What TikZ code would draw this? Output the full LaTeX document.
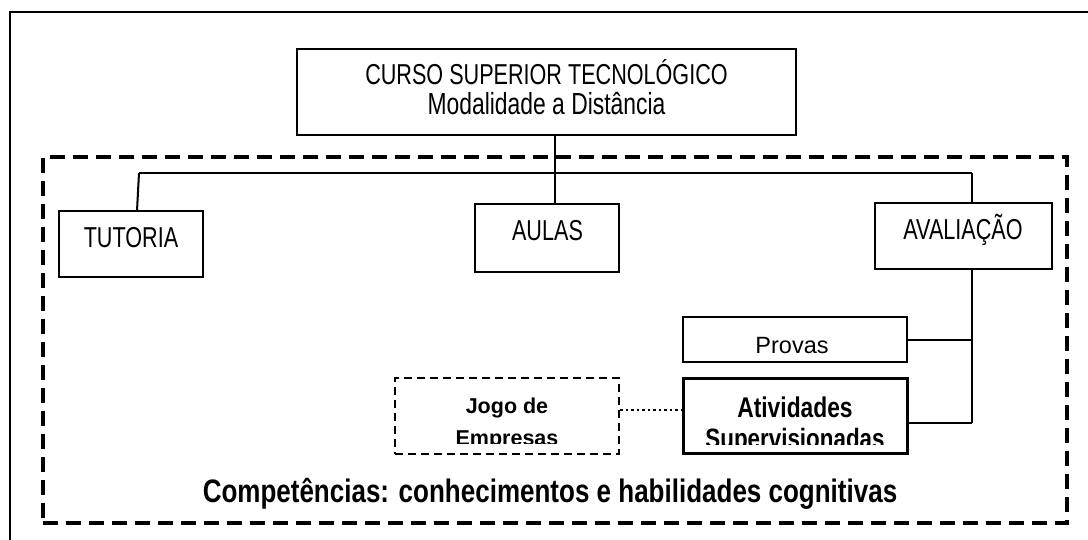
\documentclass[tikz,border=0pt]{standalone}
\usepackage{fontspec}
\setmainfont{Liberation Sans}
\newfontfamily\nar[FakeStretch=0.75]{Liberation Sans}
\newfontfamily\narb[FakeStretch=0.8]{Liberation Sans}
\begin{document}
\begin{tikzpicture}[x=1pt,y=-1pt,
  box/.style={draw,line width=2pt,rectangle,inner sep=0pt},
  thickbox/.style={draw,line width=3pt,rectangle,inner sep=0pt},
  link/.style={line width=2pt},
  txt/.style={inner sep=0pt,anchor=base},
  bigdash/.style={line width=3.3pt,dash pattern=on 15pt off 8pt},
  smalldash/.style={line width=2.5pt,dash pattern=on 8pt off 5pt},
  dots/.style={line width=2.2pt,dash pattern=on 2.5pt off 3pt}]
\useasboundingbox (0,0) rectangle (1088,540);
\fill[white] (0,0) rectangle (1088,540);
% outer frame (partly outside the page)
\coordinate (fa) at (10,545);
\coordinate (fb) at (10,12);
\coordinate (fc) at (1095,12);
\draw[line width=2pt] (fa) -- (fb) -- (fc);
% dashed region
\node[draw,bigdash,inner sep=0pt,minimum width=1024pt,minimum height=366pt] (region) at (555,340) {};
% top box
\node[box,minimum width=499pt,minimum height=86pt] (top) at (546.5,92) {};
\node[txt] (t1) at (546.5,85) {\nar\fontsize{28.8}{30}\selectfont CURSO SUPERIOR TECNOL\'OGICO};
\node[txt] (t2) at (546.5,115) {\nar\fontsize{30.5}{32}\selectfont Modalidade a Dist\^ancia};
% level boxes
\node[box,minimum width=144pt,minimum height=66pt] (tut) at (131,244) {};
\node[txt] (tutt) at (131,248) {\nar\fontsize{28.8}{30}\selectfont TUTORIA};
\node[box,minimum width=144pt,minimum height=68pt] (aul) at (547,238) {};
\node[txt] (ault) at (547.5,241) {\nar\fontsize{28.8}{30}\selectfont AULAS};
\node[box,minimum width=177pt,minimum height=66pt] (ava) at (963.5,236) {};
\node[txt] (avat) at (963,240) {\nar\fontsize{28.8}{30}\selectfont AVALIA\c{C}\~AO};
% provas
\node[box,minimum width=224pt,minimum height=45pt] (prov) at (795,339.5) {};
\node[txt] (provt) at (792,354) {\fontsize{23.5}{26}\selectfont Provas};
% atividades
\node[thickbox,minimum width=224pt,minimum height=75pt] (ativ) at (795,415.5) {};
\begin{scope}
\clip (684,380) rectangle (906,444);
\node[txt] (ativt1) at (795,417) {\narb\bfseries\fontsize{28.5}{30}\selectfont Atividades};
\node[txt] (ativt2) at (795,448) {\narb\bfseries\fontsize{28}{30}\selectfont Supervisionadas};
\end{scope}
% jogo de empresas
\node[draw,smalldash,inner sep=0pt,minimum width=224pt,minimum height=76pt] (jogo) at (507,416) {};
\begin{scope}
\clip (397,380) rectangle (617,443);
\node[txt] (jogot1) at (507,413) {\bfseries\fontsize{21.5}{24}\selectfont Jogo de};
\node[txt] (jogot2) at (507,445.5) {\bfseries\fontsize{21.5}{24}\selectfont Empresas};
\end{scope}
% competencias
\node[txt] (comp) at (550,502) {\narb\bfseries\fontsize{32.5}{36}\selectfont Compet\^encias: conhecimentos e habilidades cognitivas};
% connectors
\coordinate (hl) at (139,173);
\coordinate (hm) at (555,173);
\coordinate (hr) at (972,173);
\coordinate (vp) at (972,340);
\coordinate (va) at (972,423);
\draw[link] (top.south -| hm) -- (aul.north -| hm);
\draw[link] (hl) -- (hr);
\draw[link] (hl) -- (137,211);
\draw[link] (hr) -- (ava.north -| hr);
\draw[link] (ava.south -| hr) -- (va);
\draw[link] (prov.east |- vp) -- (vp);
\draw[link] (ativ.east |- va) -- (va);
\draw[dots] (jogo.east |- 0,410) -- (ativ.west |- 0,410);
\end{tikzpicture}
\end{document}
